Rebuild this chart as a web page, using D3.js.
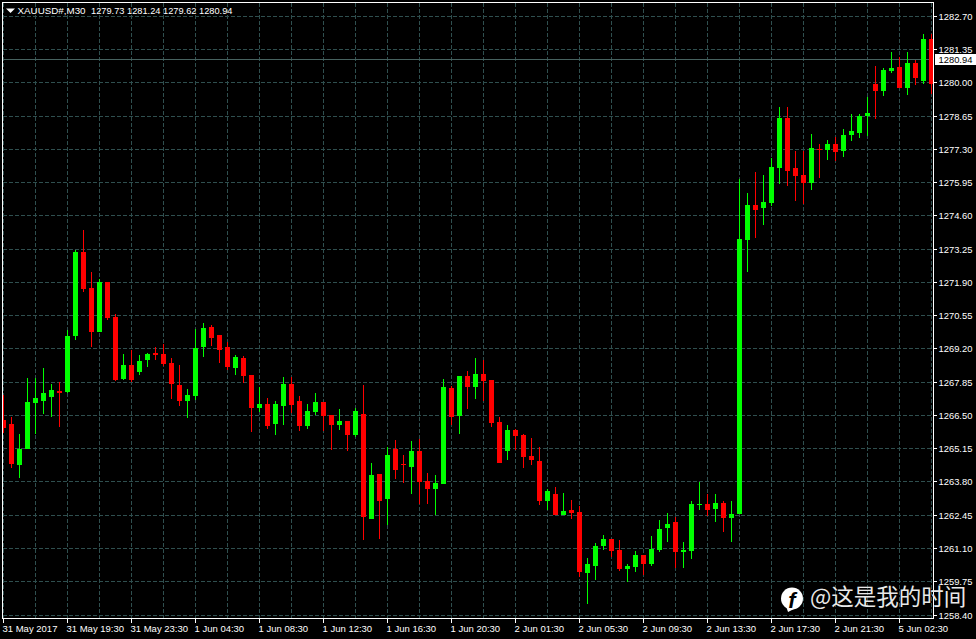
<!DOCTYPE html>
<html><head><meta charset="utf-8">
<style>html,body{margin:0;padding:0;background:#000}svg{display:block}text{font-family:"Liberation Sans",sans-serif}</style>
<script src="https://cdn.jsdelivr.net/npm/d3@7"></script></head>
<body><svg id="c" width="976" height="639"></svg>
<script>
const symbolName = "XAUUSD#,M30";
const ohlcText = "1279.73 1281.24 1279.62 1280.94";
const lastPrice = 1280.94;
const priceTicks = [1282.70,1281.35,1280.00,1278.65,1277.30,1275.95,1274.60,1273.25,1271.90,1270.55,1269.20,1267.85,1266.50,1265.15,1263.80,1262.45,1261.10,1259.75,1258.40];
const timeLabels = ["31 May 2017","31 May 19:30","31 May 23:30","1 Jun 04:30","1 Jun 08:30","1 Jun 12:30","1 Jun 16:30","1 Jun 20:30","2 Jun 01:30","2 Jun 05:30","2 Jun 09:30","2 Jun 13:30","2 Jun 17:30","2 Jun 21:30","5 Jun 02:30"];
const watermark = "@这是我的时间";
const open = [1266.31,1266.15,1264.49,1265.13,1267.01,1267.09,1267.25,1267.49,1267.45,1269.72,1273.13,1271.68,1269.89,1271.92,1270.49,1267.98,1268.55,1268.26,1268.75,1269.04,1268.99,1268.63,1267.74,1267.09,1267.29,1269.28,1270.09,1269.76,1269.28,1268.42,1268.83,1268.14,1266.80,1266.97,1266.15,1266.88,1267.78,1267.09,1266.07,1266.64,1267.05,1266.52,1266.11,1266.27,1265.71,1266.56,1262.30,1264.13,1263.11,1265.13,1264.53,1264.41,1265.06,1263.84,1263.51,1263.72,1267.61,1266.48,1268.10,1267.65,1268.18,1267.94,1266.23,1265.06,1265.91,1265.71,1264.85,1264.65,1263.03,1263.31,1262.46,1262.66,1262.58,1260.11,1260.39,1261.20,1261.48,1261.04,1260.27,1260.35,1260.84,1260.47,1261.04,1261.93,1262.18,1260.96,1261.00,1262.87,1262.91,1262.70,1262.95,1262.34,1262.50,1273.62,1275.04,1274.92,1275.12,1276.54,1278.57,1276.54,1276.26,1275.93,1277.31,1277.27,1277.52,1277.23,1277.88,1277.96,1278.65,1279.95,1279.67,1280.48,1280.64,1279.79,1280.80,1280.07,1281.78];
const close = [1265.99,1264.53,1265.13,1267.05,1267.21,1267.41,1267.53,1267.41,1269.72,1273.13,1271.63,1269.89,1271.92,1270.45,1267.94,1268.55,1267.94,1268.71,1268.99,1268.95,1268.59,1267.78,1267.09,1267.33,1269.24,1270.05,1269.64,1269.16,1268.47,1268.87,1268.10,1266.80,1266.97,1266.07,1266.97,1267.78,1266.92,1266.07,1266.68,1267.05,1266.48,1266.11,1266.27,1265.71,1266.68,1262.38,1264.09,1263.03,1264.90,1264.29,1264.49,1265.06,1263.80,1263.51,1263.76,1267.65,1266.44,1268.10,1267.65,1268.18,1267.90,1266.19,1264.57,1265.91,1265.67,1264.81,1264.69,1263.03,1263.43,1262.46,1262.62,1262.54,1260.15,1260.47,1261.20,1261.48,1261.00,1260.27,1260.39,1260.84,1260.47,1261.08,1261.89,1262.10,1260.96,1261.04,1262.91,1262.91,1262.66,1262.95,1262.34,1262.50,1273.66,1275.04,1274.84,1275.16,1276.58,1278.57,1276.42,1276.22,1275.93,1277.35,1277.27,1277.52,1277.19,1277.88,1278.04,1278.65,1278.78,1279.67,1280.52,1280.60,1279.79,1280.80,1280.19,1281.78,1279.95];
const high = [1267.33,1266.43,1265.75,1268.02,1268.02,1268.42,1267.78,1267.86,1269.97,1273.21,1274.03,1272.32,1272.04,1271.92,1270.62,1268.99,1269.16,1268.95,1269.04,1269.28,1269.40,1268.83,1268.55,1267.57,1270.01,1270.25,1270.17,1269.76,1269.48,1268.95,1268.91,1268.14,1267.65,1267.21,1267.09,1268.06,1268.06,1267.29,1266.97,1267.41,1267.05,1266.52,1266.76,1266.27,1266.80,1267.74,1264.57,1264.13,1265.22,1265.50,1264.90,1265.46,1265.54,1264.17,1264.09,1267.98,1267.69,1268.10,1268.30,1268.83,1268.75,1267.94,1266.43,1266.11,1265.95,1265.75,1265.58,1265.22,1263.51,1263.59,1263.35,1263.07,1262.83,1260.71,1261.32,1261.64,1261.48,1261.44,1260.47,1261.00,1260.84,1261.60,1262.26,1262.54,1262.38,1261.36,1263.03,1263.80,1263.31,1263.31,1263.03,1263.03,1276.10,1275.53,1276.38,1276.26,1276.95,1279.02,1279.02,1277.23,1277.23,1277.92,1277.52,1277.68,1277.80,1278.12,1278.74,1278.74,1279.42,1280.68,1280.60,1281.25,1281.04,1281.25,1280.92,1281.98,1281.98];
const low = [1265.79,1264.37,1263.96,1265.13,1265.75,1266.56,1266.44,1266.03,1267.41,1269.56,1271.51,1269.28,1269.89,1270.37,1267.90,1267.94,1267.86,1268.14,1268.46,1268.75,1268.50,1267.17,1266.88,1266.39,1267.13,1268.87,1269.32,1268.63,1268.34,1268.14,1267.82,1265.83,1266.64,1265.95,1265.71,1266.11,1266.60,1265.87,1265.95,1266.52,1265.87,1265.10,1265.91,1265.06,1265.62,1261.44,1262.30,1261.48,1262.06,1263.92,1263.76,1263.31,1262.91,1262.91,1262.46,1263.72,1266.11,1265.75,1266.76,1267.17,1267.09,1266.03,1264.57,1264.69,1265.10,1264.37,1264.49,1262.87,1262.66,1262.46,1262.46,1262.30,1259.94,1258.85,1259.82,1261.04,1260.75,1260.19,1259.74,1260.15,1260.03,1260.39,1260.96,1261.36,1260.31,1260.31,1260.67,1262.66,1262.42,1262.18,1261.77,1261.36,1262.50,1272.33,1273.70,1274.23,1275.00,1275.89,1275.81,1275.20,1275.08,1275.65,1276.14,1276.87,1276.83,1276.99,1277.64,1277.76,1277.84,1278.53,1279.46,1280.40,1279.79,1279.50,1279.91,1279.95,1279.54];

const W=976,H=639,L=3,R=933,T=3,B=618;
const GRID="#2f4f4f",UP="#00ff00",DOWN="#ff0000",FG="#ffffff";
const svg=d3.select("#c");
svg.append("rect").attr("width",W).attr("height",H).attr("fill","#000");
const y=d3.scaleLinear().domain([1281.35,1258.40]).range([49.5,615]);
const x=d3.scaleLinear().domain([0,116]).range([3,931]);
const barIdx=d3.range(open.length);
const defs=svg.append("defs");
defs.append("clipPath").attr("id","plot").append("rect").attr("x",L).attr("y",T).attr("width",R-L).attr("height",B-T);
const plot=svg.append("g").attr("clip-path","url(#plot)").attr("shape-rendering","crispEdges");
plot.selectAll(".h").data(priceTicks).join("line")
 .attr("x1",L).attr("x2",R).attr("y1",d=>Math.floor(y(d))+.5).attr("y2",d=>Math.floor(y(d))+.5)
 .attr("stroke",GRID).attr("stroke-dasharray","4 2");
const gridIdx=barIdx.filter(i=>i%4===0);
plot.selectAll(".v").data(gridIdx).join("line")
 .attr("x1",i=>x(i)+.5).attr("x2",i=>x(i)+.5).attr("y1",T).attr("y2",B)
 .attr("stroke",GRID).attr("stroke-dasharray","4 2");
plot.append("line").attr("x1",L).attr("x2",R).attr("y1",Math.floor(y(lastPrice))+.5).attr("y2",Math.floor(y(lastPrice))+.5).attr("stroke","#47625f");
const col=i=>close[i]>=open[i]?UP:DOWN;
plot.selectAll(".w").data(barIdx).join("rect")
 .attr("x",i=>x(i)).attr("width",1)
 .attr("y",i=>Math.round(y(high[i]))).attr("height",i=>Math.max(1,Math.round(y(low[i]))-Math.round(y(high[i]))))
 .attr("fill",col);
plot.selectAll(".b").data(barIdx).join("rect")
 .attr("x",i=>x(i)-2).attr("width",5)
 .attr("y",i=>Math.round(y(Math.max(open[i],close[i]))))
 .attr("height",i=>Math.max(1,Math.round(y(Math.min(open[i],close[i])))-Math.round(y(Math.max(open[i],close[i])))))
 .attr("fill",col);
const frame=svg.append("g").attr("shape-rendering","crispEdges");
frame.append("rect").attr("x",2.5).attr("y",2.5).attr("width",R-2).attr("height",B-2).attr("fill","none").attr("stroke",FG);
const ay=svg.append("g");
ay.selectAll("text").data(priceTicks).join("text").attr("x",938.5).attr("y",d=>y(d)+3.5)
 .attr("fill",FG).attr("font-size",9.4).text(d=>d3.format(".2f")(d));
frame.selectAll(".yt").data(priceTicks).join("rect").attr("x",934).attr("width",3).attr("height",1).attr("y",d=>Math.floor(y(d))).attr("fill",FG);
const lp=svg.append("g");
lp.append("rect").attr("x",935).attr("y",Math.floor(y(lastPrice))-5).attr("width",41).attr("height",11).attr("fill",FG);
lp.append("text").attr("x",938.5).attr("y",y(lastPrice)+3.5).attr("fill","#000").attr("font-size",9.4).text(d3.format(".2f")(lastPrice));
const labIdx=timeLabels.map((_,k)=>k*8);
frame.selectAll(".xt").data(labIdx).join("rect").attr("x",i=>x(i)).attr("width",1).attr("y",619).attr("height",4).attr("fill",FG);
svg.append("g").selectAll("text").data(timeLabels).join("text").attr("x",(d,k)=>x(labIdx[k])-0.5).attr("y",631.5)
 .attr("fill",FG).attr("font-size",9.5).text(d=>d);
svg.append("path").attr("d","M6 8.5h9l-4.5 4.5z").attr("fill",FG);
svg.append("text").attr("x",17.5).attr("y",14).attr("fill",FG).attr("font-size",9.8).text(symbolName);
svg.append("text").attr("x",91).attr("y",14).attr("fill",FG).attr("font-size",9.25).text(ohlcText);
const wm=svg.append("g");
wm.append("circle").attr("cx",792).attr("cy",598.5).attr("r",11).attr("fill",FG);
wm.append("path").attr("d","M786 606l2 6l6-3z").attr("fill",FG);
wm.append("text").attr("x",792).attr("y",608).attr("text-anchor","middle").attr("fill","#000").attr("font-size",22).attr("font-weight","bold").attr("font-style","italic").text("f");
wm.append("text").attr("x",810).attr("y",605).attr("fill","#e8e8e8").attr("font-size",22.5).style("font-family",'"Noto Sans CJK SC"').text(watermark);
</script></body></html>
